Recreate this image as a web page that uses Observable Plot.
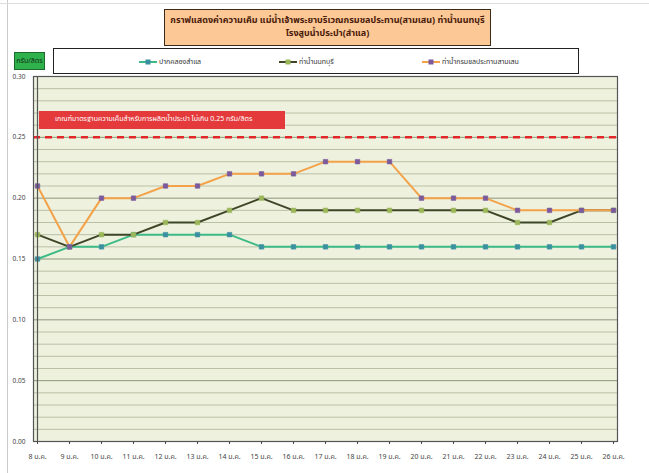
<!DOCTYPE html>
<html><head><meta charset="utf-8">
<script src="https://cdn.jsdelivr.net/npm/d3@7"></script>
<script src="https://cdn.jsdelivr.net/npm/@observablehq/plot@0.6"></script>
<style>
body{margin:0;background:#fff;font-family:Tahoma,"Noto Sans Thai","Noto Sans","DejaVu Sans",sans-serif;}
#wrap{position:relative;width:649px;height:473px;overflow:hidden;}
#wrap svg{position:absolute;left:0;top:0;}
.ov{position:absolute;box-sizing:border-box;}
#title{left:164px;top:9px;width:327px;height:37px;background:#fbc896;border:1.5px solid #3a2a1a;text-align:center;font-weight:bold;font-size:9px;line-height:13px;color:#4a1a0a;padding-top:4px;}
#unit{left:14px;top:52px;width:31px;height:18px;background:#2fb14b;border:1px solid #1c6b2c;font-size:7px;line-height:16px;text-align:center;color:#10301a;}
#legend{left:53px;top:48px;width:526px;height:26px;background:#fff;border:1.5px solid #222;font-size:7px;color:#333;}
.li{position:absolute;top:8px;white-space:nowrap;display:flex;align-items:center;}
.li svg{position:static !important;margin-right:2px;}
#std{background:#e53a3b;color:#fff;font-size:7px;line-height:17px;padding-left:16px;white-space:nowrap;}
#edge{left:7px;top:0;width:1px;height:473px;background:#ccc;}
#topedge{left:0;top:3px;width:649px;height:1px;background:#ddd;}
</style></head><body><div id="wrap"></div>
<script>
const dates = ["8 ม.ค.","9 ม.ค.","10 ม.ค.","11 ม.ค.","12 ม.ค.","13 ม.ค.","14 ม.ค.","15 ม.ค.","16 ม.ค.","17 ม.ค.","18 ม.ค.","19 ม.ค.","20 ม.ค.","21 ม.ค.","22 ม.ค.","23 ม.ค.","24 ม.ค.","25 ม.ค.","26 ม.ค."];
const samlae     = [0.15,0.16,0.16,0.17,0.17,0.17,0.17,0.16,0.16,0.16,0.16,0.16,0.16,0.16,0.16,0.16,0.16,0.16,0.16];
const nonthaburi = [0.17,0.16,0.17,0.17,0.18,0.18,0.19,0.20,0.19,0.19,0.19,0.19,0.19,0.19,0.19,0.18,0.18,0.19,0.19];
const samsen     = [0.21,0.16,0.20,0.20,0.21,0.21,0.22,0.22,0.22,0.23,0.23,0.23,0.20,0.20,0.20,0.19,0.19,0.19,0.19];
const seriesNames = ["ปากคลองสำแล","ท่าน้ำนนทบุรี","ท่าน้ำกรมชลประทานสามเสน"];
const lineColors = ["#3dbb86","#3f4628","#f3a24a"];
const markerColors = ["#3a8fa0","#9bb75a","#7a5a9c"];
const yTicks = [0,0.05,0.10,0.15,0.20,0.25,0.30];
const minorGrid = d3.range(1,31).map(i=>i/100);
const standard = 0.25;
const titleLines = ["กราฟแสดงค่าความเค็ม แม่น้ำเจ้าพระยาบริเวณกรมชลประทาน(สามเสน) ท่าน้ำนนทบุรี","โรงสูบน้ำประปา(สำแล)"];
const unitLabel = "กรัม/ลิตร";
const standardLabel = "เกณฑ์มาตรฐานความเค็มสำหรับการผลิตน้ำประปา ไม่เกิน 0.25 กรัม/ลิตร";

const allSeries = [samlae, nonthaburi, samsen];
const rows = allSeries.flatMap((vals,si)=>vals.map((v,i)=>({date:dates[i], value:v, s:si})));

const marks = [
  Plot.frame({fill:"#edf1dd", stroke:null}),
  Plot.ruleY(minorGrid.filter(v=>Math.round(v*100)%5!==0), {stroke:"#b9c0a6", strokeWidth:1}),
  Plot.ruleY(minorGrid.filter(v=>Math.round(v*100)%5===0), {stroke:"#8e977c", strokeWidth:1}),
  Plot.ruleY([standard], {stroke:"#e2262a", strokeWidth:2.5, strokeDasharray:"7,5"})
];
allSeries.forEach((vals,si)=>{
  const d = rows.filter(r=>r.s===si);
  marks.push(Plot.line(d, {x:"date", y:"value", stroke:lineColors[si], strokeWidth:2}));
});
allSeries.forEach((vals,si)=>{
  const d = rows.filter(r=>r.s===si);
  marks.push(Plot.dot(d, {x:"date", y:"value", symbol:"square", r:2.6, fill:markerColors[si], stroke:markerColors[si], strokeWidth:0.5}));
});
marks.push(
  Plot.axisY({ticks:yTicks, tickFormat:d3.format(".2f"), tickSize:0, tickPadding:8, fontSize:6.5, color:"#444"}),
  Plot.axisX({tickSize:3, tickPadding:10, fontSize:7, color:"#444"}),
  Plot.ruleX([dates[0]], {stroke:"#555", strokeWidth:1.2}),
  Plot.ruleY([0], {stroke:"#555", strokeWidth:1.2}),
  Plot.frame({stroke:"#555", strokeWidth:1.2})
);

const plot = Plot.plot({
  width:649, height:473,
  marginLeft:33, marginRight:32, marginTop:76, marginBottom:32,
  style:{fontFamily:'Tahoma,"Noto Sans Thai","Noto Sans",sans-serif', background:"transparent"},
  x:{type:"point", domain:dates, padding:0, label:null},
  y:{domain:[0,0.30], label:null},
  marks
});
const wrap = document.getElementById("wrap");
wrap.appendChild(plot);

function div(id, cls, html){const e=document.createElement("div"); if(id)e.id=id; e.className="ov "+(cls||""); e.innerHTML=html; wrap.appendChild(e); return e;}
div("edge","","");
div("topedge","","");
div("title","",titleLines.join("<br>"));
div("unit","",unitLabel);
const leg = div("legend","","");
const legX = [85, 225, 368];
seriesNames.forEach((n,i)=>{
  const it=document.createElement("div"); it.className="li"; it.style.left=legX[i]+"px";
  it.innerHTML=`<svg width="18" height="8"><line x1="0" y1="4" x2="18" y2="4" stroke="${lineColors[i]}" stroke-width="2"/><rect x="6.5" y="1.5" width="5" height="5" fill="${markerColors[i]}"/></svg>${n}`;
  leg.appendChild(it);
});
const ys = plot.scale("y"), xs = plot.scale("x");
const std = div("std","",standardLabel);
const x0 = xs.apply(dates[0]);
std.style.left = (x0+2)+"px";
std.style.top = (ys.apply(0.266)-6)+"px";
std.style.width = (xs.apply(dates[8]) - x0 - 10)+"px";
std.style.height = "18px";
</script></body></html>
